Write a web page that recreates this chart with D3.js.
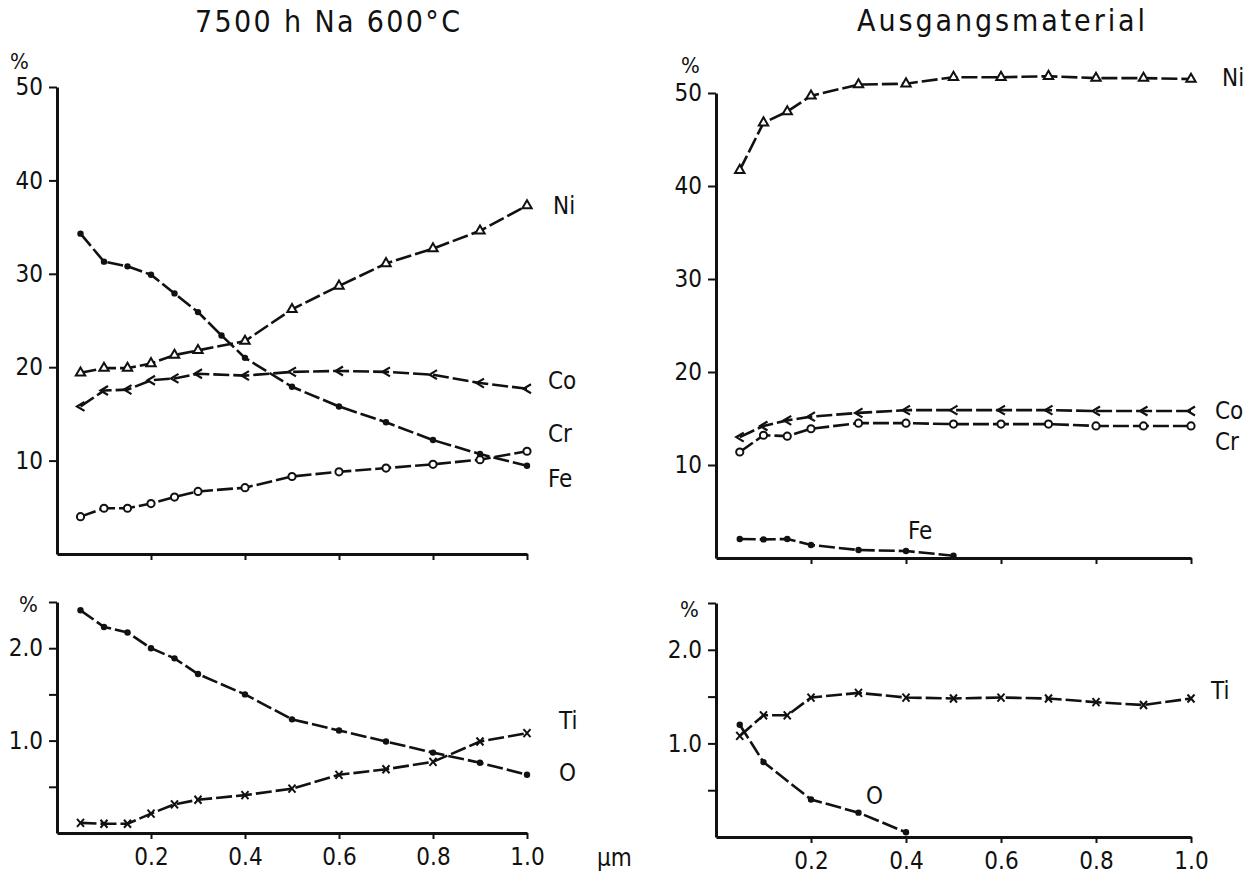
<!DOCTYPE html>
<html>
<head>
<meta charset="utf-8">
<script src="https://cdn.jsdelivr.net/npm/d3@7"></script>
<style>
  body { margin: 0; background: #fff; }
  svg text { font-family: "DejaVu Sans Condensed", "DejaVu Sans", sans-serif; fill: #111; }
</style>
</head>
<body>
<div id="chart"></div>
<script>
// depth (µm) sample positions
const depthAged = [0.05, 0.1, 0.15, 0.2, 0.25, 0.3, 0.4, 0.5, 0.6, 0.7, 0.8, 0.9, 1.0];
const depthAgedFe = [0.05, 0.1, 0.15, 0.2, 0.25, 0.3, 0.35, 0.4, 0.5, 0.6, 0.7, 0.8, 0.9, 1.0];
const depthBase = [0.05, 0.1, 0.15, 0.2, 0.3, 0.4, 0.5, 0.6, 0.7, 0.8, 0.9, 1.0];
const depthBaseFe = [0.05, 0.1, 0.15, 0.2, 0.3, 0.4, 0.5];
const depthBaseO = [0.05, 0.1, 0.2, 0.3, 0.4];

// 7500 h Na 600°C
const niAged = [19.4, 19.9, 19.9, 20.4, 21.3, 21.8, 22.8, 26.2, 28.7, 31.1, 32.7, 34.6, 37.3];
const coAged = [15.8, 17.5, 17.6, 18.6, 18.8, 19.3, 19.1, 19.5, 19.6, 19.5, 19.2, 18.3, 17.7];
const crAged = [4.0, 4.9, 4.9, 5.4, 6.1, 6.7, 7.1, 8.3, 8.8, 9.2, 9.6, 10.1, 11.0];
const feAged = [34.3, 31.3, 30.8, 29.9, 27.9, 25.9, 23.4, 21.0, 17.9, 15.8, 14.1, 12.2, 10.7, 9.45];
const oAged = [2.41, 2.23, 2.17, 2.0, 1.89, 1.72, 1.50, 1.23, 1.11, 0.99, 0.87, 0.76, 0.63];
const tiAged = [0.11, 0.10, 0.10, 0.21, 0.31, 0.36, 0.41, 0.48, 0.63, 0.69, 0.77, 0.99, 1.08];

// Ausgangsmaterial
const niBase = [41.7, 46.8, 48.0, 49.7, 50.9, 51.0, 51.7, 51.7, 51.8, 51.6, 51.6, 51.5];
const coBase = [13.0, 14.2, 14.8, 15.2, 15.6, 15.9, 15.9, 15.9, 15.9, 15.8, 15.8, 15.8];
const crBase = [11.4, 13.2, 13.1, 13.9, 14.5, 14.5, 14.4, 14.4, 14.4, 14.2, 14.2, 14.2];
const feBase = [2.05, 2.0, 2.04, 1.4, 0.86, 0.75, 0.25];
const tiBase = [1.08, 1.30, 1.30, 1.49, 1.54, 1.49, 1.48, 1.49, 1.48, 1.44, 1.41, 1.48];
const oBase = [1.20, 0.80, 0.40, 0.26, 0.05];

const xTicks = [0.2, 0.4, 0.6, 0.8, 1.0];
const xTickLabels = ["0.2", "0.4", "0.6", "0.8", "1.0"];
const yTicksMain = [10, 20, 30, 40, 50];
const yTicksMinor = [0.5, 1.0, 1.5, 2.0, 2.5];
const yLabelsMinor = {1.0: "1.0", 2.0: "2.0"};

const svg = d3.select("#chart").append("svg")
    .attr("width", 1246)
    .attr("height", 880);

// panel geometry
const panels = {
  aged:      { x0: 57,  x1: 527,  y0: 554, y1: 87 },
  agedLow:   { x0: 57,  x1: 527,  y0: 833, y1: 602 },
  base:      { x0: 716, x1: 1191, y0: 558, y1: 93 },
  baseLow:   { x0: 716, x1: 1191, y0: 837, y1: 603 }
};

function makePanel(p, yMax, yTicks, yFmt, xLabels) {
  const x = d3.scaleLinear().domain([0, 1]).range([p.x0, p.x1]);
  const y = d3.scaleLinear().domain([0, yMax]).range([p.y0, p.y1]);

  const gy = svg.append("g").attr("transform", `translate(${p.x0},0)`)
      .call(d3.axisLeft(y).tickValues(yTicks).tickSize(8).tickSizeOuter(0).tickFormat(yFmt).tickPadding(6));
  const gx = svg.append("g").attr("transform", `translate(0,${p.y0})`)
      .call(d3.axisBottom(x).tickValues(xTicks).tickSize(6).tickSizeOuter(0)
        .tickFormat((d, i) => xLabels ? xTickLabels[i] : "").tickPadding(8));

  [gy, gx].forEach(g => {
    g.select(".domain").attr("stroke", "#111").attr("stroke-width", 3);
    g.selectAll(".tick line").attr("stroke", "#111").attr("stroke-width", 2);
    g.selectAll(".tick text").style("font-size", "24px");
  });
  gx.selectAll(".tick text").attr("dy", "0.75em");
  return { x, y };
}

function marker(g, type, cx, cy) {
  if (type === "dot") {
    g.append("circle").attr("cx", cx).attr("cy", cy).attr("r", 3.2).attr("fill", "#111");
  } else if (type === "circle") {
    g.append("circle").attr("cx", cx).attr("cy", cy).attr("r", 3.6)
      .attr("fill", "#fff").attr("stroke", "#111").attr("stroke-width", 2);
  } else if (type === "tri") {
    g.append("path").attr("transform", `translate(${cx},${cy})`)
      .attr("d", d3.symbol(d3.symbolTriangle, 38)())
      .attr("fill", "#fff").attr("stroke", "#111").attr("stroke-width", 2);
  } else if (type === "lt") {
    g.append("path").attr("d", `M${cx + 4},${cy - 4.5}L${cx - 3.5},${cy}L${cx + 4},${cy + 4.5}`)
      .attr("fill", "none").attr("stroke", "#111").attr("stroke-width", 2.2);
  } else if (type === "x") {
    g.append("path").attr("d", `M${cx - 3.5},${cy - 4}L${cx + 3.5},${cy + 4}M${cx + 3.5},${cy - 4}L${cx - 3.5},${cy + 4}`)
      .attr("fill", "none").attr("stroke", "#111").attr("stroke-width", 2);
  }
}

function series(sc, xs, ys, type) {
  const pts = xs.map((d, i) => [d, ys[i]]);
  const g = svg.append("g");
  g.append("path")
    .datum(pts)
    .attr("d", d3.line().x(d => sc.x(d[0])).y(d => sc.y(d[1])))
    .attr("fill", "none")
    .attr("stroke", "#111")
    .attr("stroke-width", 2.6)
    .attr("stroke-dasharray", "16,4");
  pts.forEach(d => marker(g, type, sc.x(d[0]), sc.y(d[1])));
}

function label(txt, x, y, size) {
  svg.append("text").attr("x", x).attr("y", y).style("font-size", (size || 24) + "px").text(txt);
}

// left: 7500 h Na 600°C
const sA = makePanel(panels.aged, 50, yTicksMain, d3.format("d"), false);
series(sA, depthAged, niAged, "tri");
series(sA, depthAged, coAged, "lt");
series(sA, depthAged, crAged, "circle");
series(sA, depthAgedFe, feAged, "dot");

const sAL = makePanel(panels.agedLow, 2.5, yTicksMinor, d => yLabelsMinor[d] || "", true);
series(sAL, depthAged, oAged, "dot");
series(sAL, depthAged, tiAged, "x");

// right: Ausgangsmaterial
const sB = makePanel(panels.base, 50, yTicksMain, d3.format("d"), false);
series(sB, depthBase, niBase, "tri");
series(sB, depthBase, coBase, "lt");
series(sB, depthBase, crBase, "circle");
series(sB, depthBaseFe, feBase, "dot");

const sBL = makePanel(panels.baseLow, 2.5, yTicksMinor, d => yLabelsMinor[d] || "", true);
series(sBL, depthBase, tiBase, "x");
series(sBL, depthBaseO, oBase, "dot");

// titles
svg.append("text").attr("x", 195).attr("y", 32).attr("textLength", 265)
  .attr("lengthAdjust", "spacing").style("font-size", "30px").text("7500 h Na 600°C");
svg.append("text").attr("x", 857).attr("y", 31).attr("textLength", 288)
  .attr("lengthAdjust", "spacing").style("font-size", "30px").text("Ausgangsmaterial");

// percent signs
label("%", 10, 69, 22);
label("%", 681, 73, 22);
label("%", 19, 612, 22);
label("%", 680, 617, 22);

// series labels, left
label("Ni", 553, 214);
label("Co", 548, 389);
label("Cr", 548, 442);
label("Fe", 548, 487);
label("Ti", 559, 729);
label("O", 559, 781);
label("µm", 597, 866);

// series labels, right
label("Ni", 1222, 86);
label("Co", 1215, 419);
label("Cr", 1215, 450);
label("Fe", 908, 539);
label("Ti", 1211, 699);
label("O", 866, 804);
</script>
</body>
</html>
